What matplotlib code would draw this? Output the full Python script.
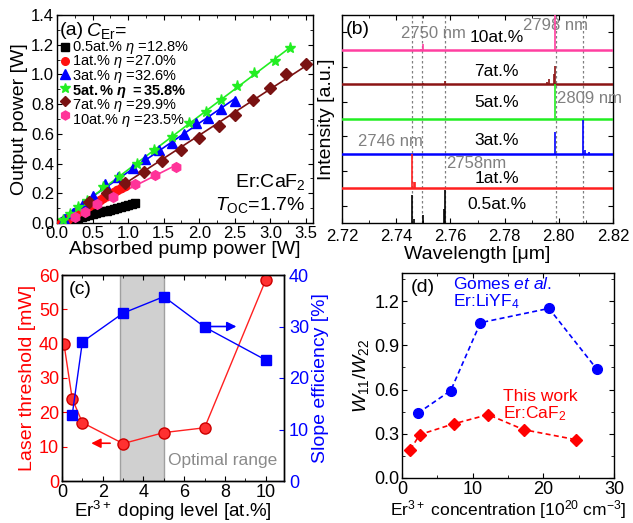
import numpy as np
import matplotlib
matplotlib.use("Agg")
import matplotlib.pyplot as plt
from matplotlib.ticker import MultipleLocator, NullFormatter

plt.rcParams['font.family'] = ['Liberation Sans', 'DejaVu Sans']
plt.rcParams['mathtext.fontset'] = 'custom'
plt.rcParams['mathtext.rm'] = 'Liberation Sans'
plt.rcParams['mathtext.it'] = 'Liberation Sans:italic'
plt.rcParams['mathtext.bf'] = 'Liberation Sans:bold'
plt.rcParams['mathtext.bfit'] = 'Liberation Sans:bold:italic'
plt.rcParams['xtick.direction'] = 'in'
plt.rcParams['ytick.direction'] = 'in'
plt.rcParams['axes.linewidth'] = 1.0

# ---------------- data: panel (a) ----------------
a_labels = ["0.5at.%", "1at.%", "3at.%", "5at.%", "7at.%", "10at.%"]
a_eta = ["12.8%", "27.0%", "32.6%", "35.8%", "29.9%", "23.5%"]
x_05 = [0.05, 0.10, 0.15, 0.20, 0.25, 0.30, 0.35, 0.40, 0.45, 0.50, 0.55, 0.60,
        0.65, 0.70, 0.75, 0.80, 0.85, 0.90, 0.95, 1.00, 1.05, 1.10]
y_05 = [0.00, 0.008, 0.014, 0.020, 0.027, 0.033, 0.040, 0.046, 0.052, 0.058, 0.065,
        0.071, 0.078, 0.084, 0.090, 0.097, 0.103, 0.110, 0.116, 0.122, 0.129, 0.135]
x_1 = [0.05, 0.10, 0.15, 0.20, 0.25, 0.30, 0.35, 0.40, 0.45, 0.50, 0.55, 0.60,
       0.65, 0.70, 0.75, 0.80, 0.85, 0.90, 0.95]
y_1 = [0.00, 0.016, 0.030, 0.044, 0.058, 0.071, 0.085, 0.098, 0.112, 0.126, 0.140,
       0.152, 0.166, 0.180, 0.193, 0.207, 0.220, 0.234, 0.248]
x_3 = [0.10, 0.22, 0.37, 0.50, 0.68, 0.86, 1.07, 1.24, 1.43, 1.62, 1.78, 1.95,
       2.13, 2.30, 2.51]
y_3 = [0.03, 0.07, 0.13, 0.18, 0.26, 0.31, 0.37, 0.43, 0.49, 0.54, 0.60, 0.67,
       0.71, 0.77, 0.82]
x_5 = [0.08, 0.18, 0.30, 0.42, 0.65, 0.87, 1.12, 1.37, 1.62, 1.85, 2.09, 2.30,
       2.53, 2.77, 3.07, 3.28]
y_5 = [0.02, 0.06, 0.11, 0.15, 0.24, 0.31, 0.40, 0.49, 0.58, 0.67, 0.75, 0.83,
       0.92, 1.01, 1.09, 1.18]
x_7 = [0.45, 0.70, 0.96, 1.23, 1.48, 1.75, 2.00, 2.28, 2.50, 2.76, 2.99, 3.22, 3.50]
y_7 = [0.14, 0.20, 0.27, 0.34, 0.42, 0.49, 0.57, 0.65, 0.73, 0.83, 0.91, 1.00, 1.07]
x_10 = [0.25, 0.40, 0.56, 0.79, 1.09, 1.38, 1.67]
y_10 = [0.04, 0.075, 0.13, 0.175, 0.26, 0.32, 0.38]

# ---------------- data: panel (b) ----------------
b_labels = ["0.5at.%", "1at.%", "3at.%", "5at.%", "7at.%", "10at.%"]
b_peaks_wl = [[2.7460, 2.7465, 2.7500, 2.7578, 2.7581],
              [2.7460, 2.7466, 2.7471],
              [2.7985, 2.8090, 2.8096, 2.8110],
              [2.7985],
              [2.7500, 2.7580, 2.7955, 2.7965, 2.7982, 2.7986],
              [2.7490, 2.7500, 2.7986]]
b_peaks_h = [[0.82, 0.12, 0.24, 0.40, 0.96],
             [1.0, 0.17, 0.17],
             [0.63, 0.96, 0.10, 0.05],
             [1.0],
             [0.03, 0.10, 0.08, 0.15, 0.30, 0.52],
             [0.03, 0.16, 1.0]]
b_marks = [2.746, 2.7494, 2.758, 2.7989, 2.809]

# ---------------- data: panel (c) ----------------
c_doping_thr = [0.1, 0.5, 1, 3, 5, 7, 10]
c_threshold = [39.8, 24.0, 17.0, 10.9, 14.1, 15.5, 58.5]
c_doping_eff = [0.5, 1, 3, 5, 7, 10]
c_slope = [12.8, 27.0, 32.6, 35.8, 29.9, 23.5]

# ---------------- data: panel (d) ----------------
d_x_gomes = [2.27, 6.9, 11.1, 20.8, 27.6]
d_y_gomes = [0.44, 0.593, 1.053, 1.15, 0.736]
d_x_this = [1.18, 2.5, 7.3, 12.2, 17.2, 24.6]
d_y_this = [0.192, 0.294, 0.367, 0.43, 0.328, 0.26]

W, H = 633, 523
fig = plt.figure(figsize=(W / 100, H / 100), dpi=100)

def box(l, t, r, b):
    return [l / W, 1 - b / H, (r - l) / W, (b - t) / H]

TICK = 12
LAB = 14

# ================= panel (a) =================
axa = fig.add_axes(box(57, 15, 313, 223))
cols_a = ['black', '#ff1010', '#0000ff', '#22ee22', '#7a1212', '#ff3399']
mk_a = ['s', 'o', '^', '*', 'D', 'h']
ms_a = [6, 6, 7, 8, 6, 7]
xs = [x_05, x_1, x_3, x_5, x_7, x_10]
ys = [y_05, y_1, y_3, y_5, y_7, y_10]
for i in range(6):
    x = np.array(xs[i]); y = np.array(ys[i])
    p = np.polyfit(x, y, 1)
    x0 = -p[1] / p[0]
    xl = np.array([max(x0, 0.0), x.max()])
    axa.plot(xl, np.polyval(p, xl), '-', color=cols_a[i], lw=1.2, zorder=2)
    axa.plot(x, y, mk_a[i], color=cols_a[i], ms=ms_a[i], mec=cols_a[i], zorder=3)
axa.set_xlim(0, 3.6)
axa.set_ylim(0, 1.4)
axa.xaxis.set_major_locator(MultipleLocator(0.5))
axa.yaxis.set_major_locator(MultipleLocator(0.2))
axa.xaxis.set_minor_locator(MultipleLocator(0.25))
axa.yaxis.set_minor_locator(MultipleLocator(0.1))
axa.tick_params(which='both', top=True, right=True, labelsize=TICK, pad=2)
axa.set_xticks([0, 0.5, 1.0, 1.5, 2.0, 2.5, 3.0, 3.5])
axa.set_xticklabels(["0.0", "0.5", "1.0", "1.5", "2.0", "2.5", "3.0", "3.5"])
axa.set_xlabel("Absorbed pump power [W]", fontsize=LAB, labelpad=0)
axa.set_ylabel("Output power [W]", fontsize=LAB, labelpad=2)
axa.text(0.012, 0.925, "(a)", transform=axa.transAxes, fontsize=14, va='center')
axa.text(0.115, 0.925, r"$C_{\mathrm{Er}}$=", transform=axa.transAxes, fontsize=14, va='center')
leg_y = [0.848, 0.781, 0.716, 0.650, 0.585, 0.518]
for i in range(6):
    axa.plot([0.031], [leg_y[i]], mk_a[i], color=cols_a[i], ms=ms_a[i] - 0.5,
             transform=axa.transAxes, clip_on=False)
leg_lines = []
for i in range(6):
    if i == 3:
        leg_lines.append(r"$\mathbf{" + a_labels[i].replace("%", r"\%") + r"}$ $\boldsymbol{\eta}$ "
                         + r"$\mathbf{=" + a_eta[i].replace("%", r"\%") + "}$")
    else:
        leg_lines.append(a_labels[i] + r" $\eta$ =" + a_eta[i])
axa.text(0.058, 0.886, "\n".join(leg_lines), transform=axa.transAxes,
         fontsize=10.5, va='top', ha='left', linespacing=0.8)
axa.text(0.97, 0.197, r"Er:CaF$_2$", transform=axa.transAxes, fontsize=14,
         ha='right', va='center')
axa.text(0.97, 0.087, r"$T_{\mathrm{OC}}$=1.7%", transform=axa.transAxes, fontsize=14,
         ha='right', va='center')

# ================= panel (b) =================
axb = fig.add_axes(box(342, 15, 613, 223))
cols_b = ['black', '#ff2020', '#0000ff', '#22ee22', '#8b1414', '#ff3fa0']
for m in b_marks:
    axb.axvline(m, color='gray', ls=(0, (2, 2)), lw=0.9, zorder=1)
for i in range(6):
    axb.axhline(i, color=cols_b[i], lw=1.8 if i > 0 else 0, zorder=3)
    axb.vlines(b_peaks_wl[i], i, np.array(b_peaks_h[i]) + i, color=cols_b[i], lw=1.2, zorder=4)
axb.set_xlim(2.72, 2.82)
axb.set_ylim(0, 6)
axb.xaxis.set_major_locator(MultipleLocator(0.02))
axb.xaxis.set_minor_locator(MultipleLocator(0.01))
axb.set_yticks([0.5, 1.5, 2.5, 3.5, 4.5, 5.5])
axb.yaxis.set_major_formatter(NullFormatter())
axb.tick_params(which='both', top=True, right=True, labelsize=TICK, pad=4)
axb.set_xticks([2.72, 2.74, 2.76, 2.78, 2.80, 2.82])
axb.set_xticklabels(["2.72", "2.74", "2.76", "2.78", "2.80", "2.82"])
axb.set_xlabel("Wavelength [μm]", fontsize=LAB, labelpad=2)
axb.set_ylabel("Intensity [a.u.]", fontsize=LAB, labelpad=1)
axb.text(0.012, 0.93, "(b)", transform=axb.transAxes, fontsize=14, va='center')
lab_y = [0.52, 1.27, 2.39, 3.49, 4.38, 5.36]
for i in range(6):
    axb.text(2.777, lab_y[i], b_labels[i], fontsize=12.5, ha='center', va='center', zorder=5)
gray = '#808080'
axb.text(2.7536, 5.48, "2750 nm", color=gray, fontsize=12, ha='center', va='center')
axb.text(2.7986, 5.71, "2798 nm", color=gray, fontsize=12, ha='center', va='center')
axb.text(2.7994, 3.6, "2809 nm", color=gray, fontsize=12, ha='left', va='center', clip_on=False)
axb.text(2.738, 2.34, "2746 nm", color=gray, fontsize=12, ha='center', va='center')
axb.text(2.7695, 1.73, "2758nm", color=gray, fontsize=12, ha='center', va='center')

# ================= panel (c) =================
axc = fig.add_axes(box(62, 275, 284, 481))
axc2 = axc.twinx()
axc.axvspan(2.85, 5.0, facecolor='#d0d0d0', edgecolor='#a0a0a0', lw=1.0, zorder=0)
axc.plot(c_doping_thr, c_threshold, '-', color='#ff2020', lw=1.0, zorder=2)
axc.plot(c_doping_thr, c_threshold, 'o', color='#ff2020', ms=8, mec='#cc0000',
         mfc='#ff3030', zorder=3)
axc2.plot(c_doping_eff, c_slope, '-s', color='#0000ff', lw=1.0, ms=7, zorder=3)
axc.set_xlim(0, 10.9)
axc.set_ylim(0, 60)
axc2.set_ylim(0, 40)
axc.xaxis.set_major_locator(MultipleLocator(2))
axc.xaxis.set_minor_locator(MultipleLocator(1))
axc.yaxis.set_major_locator(MultipleLocator(10))
axc2.yaxis.set_major_locator(MultipleLocator(10))
axc.tick_params(which='both', top=True, labelsize=TICK, pad=2)
axc.tick_params(axis='y', colors='#ff0000', labelsize=TICK + 1)
axc2.tick_params(axis='y', colors='#0000ff', labelsize=TICK + 1, direction='in')
axc.tick_params(axis='x', labelsize=TICK + 1)
axc.set_xlabel(r"Er$^{3+}$ doping level [at.%]", fontsize=13.5, labelpad=-1)
axc.set_ylabel("Laser threshold [mW]", fontsize=LAB, color='#ff0000', labelpad=2)
axc2.set_ylabel("Slope efficiency [%]", fontsize=LAB, color='#0000ff', labelpad=2)
axc.text(0.03, 0.93, "(c)", transform=axc.transAxes, fontsize=14, va='center')
axc.text(7.9, 6, "Optimal range", color='#8a8a8a', fontsize=12.5, ha='center', va='center')
axc.annotate("", xy=(1.3, 11.0), xytext=(2.5, 11.0),
             arrowprops=dict(arrowstyle='-|>', color='#ff0000', lw=1.2, mutation_scale=14))
axc2.annotate("", xy=(8.7, 30.0), xytext=(7.2, 30.0),
              arrowprops=dict(arrowstyle='-|>', color='#0000ff', lw=1.2, mutation_scale=14))

# ================= panel (d) =================
axd = fig.add_axes(box(402, 273, 614, 478))
axd.plot(d_x_gomes, d_y_gomes, '--o', color='#0000ff', lw=1.2, ms=7, dashes=(3, 2))
axd.plot(d_x_this, d_y_this, '--D', color='#ff0000', lw=1.2, ms=6.5, dashes=(3, 2))
axd.set_xlim(0, 30)
axd.set_ylim(0, 1.39)
axd.xaxis.set_major_locator(MultipleLocator(10))
axd.xaxis.set_minor_locator(MultipleLocator(5))
axd.set_yticks([0.0, 0.3, 0.6, 0.9, 1.2])
axd.set_yticklabels(["0.0", "0.3", "0.6", "0.9", "1.2"])
axd.yaxis.set_minor_locator(MultipleLocator(0.15))
axd.tick_params(which='both', top=True, right=True, labelsize=TICK + 1, pad=2)
axd.set_xlabel(r"Er$^{3+}$ concentration [10$^{20}$ cm$^{-3}$]", fontsize=12.5, labelpad=0)
axd.set_ylabel(r"$W_{11}/W_{22}$", fontsize=LAB, labelpad=2)
axd.text(0.04, 0.93, "(d)", transform=axd.transAxes, fontsize=14, va='center')
axd.text(7.2, 1.315, r"Gomes $\it{et\ al.}$", color='#0000ff', fontsize=12.5, va='center')
axd.text(7.2, 1.195, r"Er:LiYF$_4$", color='#0000ff', fontsize=12.5, va='center')
axd.text(14.3, 0.55, "This work", color='#ff0000', fontsize=12.5, va='center')
axd.text(14.3, 0.435, r"Er:CaF$_2$", color='#ff0000', fontsize=12.5, va='center')

fig.savefig("out.png", dpi=100)
